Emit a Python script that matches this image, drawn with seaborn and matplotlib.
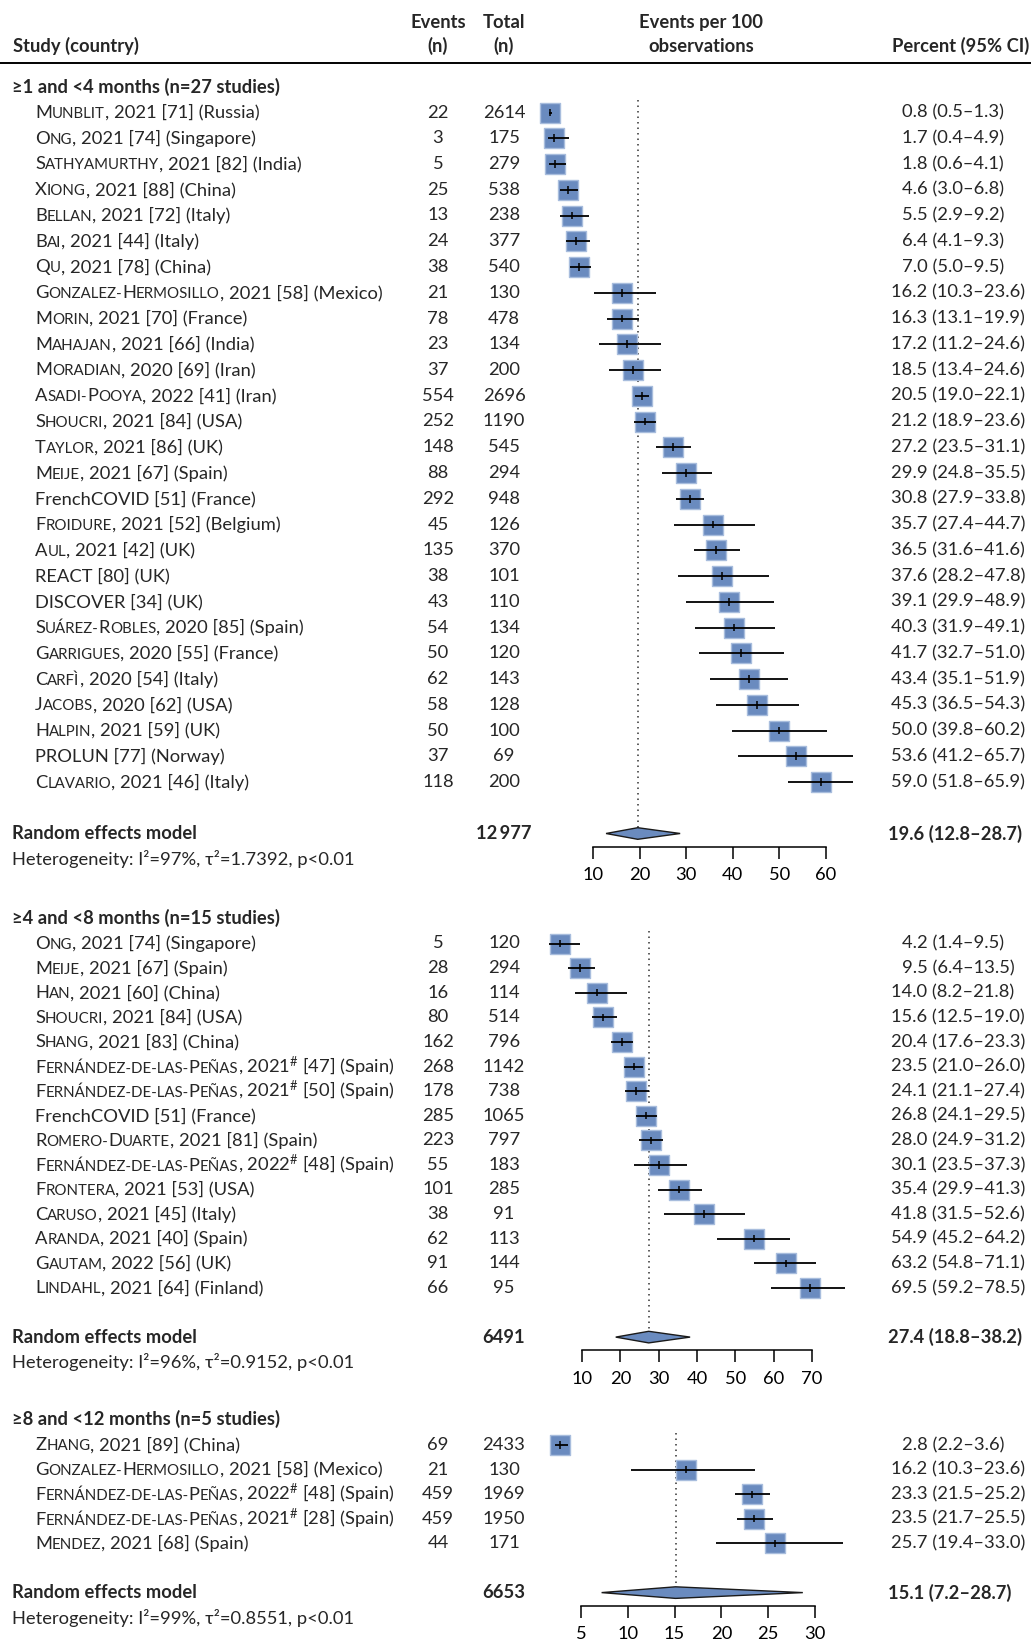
import matplotlib
matplotlib.use("Agg")
import matplotlib.pyplot as plt
import matplotlib.transforms as mtransforms
from matplotlib.lines import Line2D
from matplotlib.offsetbox import TextArea, HPacker, AnnotationBbox
import seaborn as sns
import pandas as pd

# ---- data: >=1 and <4 months
s1_title = "≥1 and <4 months (n=27 studies)"
s1_studies = ["Munblit, 2021 [71] (Russia)", "Ong, 2021 [74] (Singapore)",
              "Sathyamurthy, 2021 [82] (India)", "Xiong, 2021 [88] (China)",
              "Bellan, 2021 [72] (Italy)", "Bai, 2021 [44] (Italy)",
              "Qu, 2021 [78] (China)", "Gonzalez-Hermosillo, 2021 [58] (Mexico)",
              "Morin, 2021 [70] (France)", "Mahajan, 2021 [66] (India)",
              "Moradian, 2020 [69] (Iran)", "Asadi-Pooya, 2022 [41] (Iran)",
              "Shoucri, 2021 [84] (USA)", "Taylor, 2021 [86] (UK)",
              "Meije, 2021 [67] (Spain)", "FrenchCOVID [51] (France)",
              "Froidure, 2021 [52] (Belgium)", "Aul, 2021 [42] (UK)",
              "REACT [80] (UK)", "DISCOVER [34] (UK)",
              "Suárez-Robles, 2020 [85] (Spain)", "Garrigues, 2020 [55] (France)",
              "Carfì, 2020 [54] (Italy)", "Jacobs, 2020 [62] (USA)",
              "Halpin, 2021 [59] (UK)", "PROLUN [77] (Norway)",
              "Clavario, 2021 [46] (Italy)"]
s1_events = [22, 3, 5, 25, 13, 24, 38, 21, 78, 23, 37, 554, 252, 148, 88, 292,
             45, 135, 38, 43, 54, 50, 62, 58, 50, 37, 118]
s1_totals = [2614, 175, 279, 538, 238, 377, 540, 130, 478, 134, 200, 2696, 1190,
             545, 294, 948, 126, 370, 101, 110, 134, 120, 143, 128, 100, 69, 200]
s1_est = [0.8, 1.7, 1.8, 4.6, 5.5, 6.4, 7.0, 16.2, 16.3, 17.2, 18.5, 20.5, 21.2,
          27.2, 29.9, 30.8, 35.7, 36.5, 37.6, 39.1, 40.3, 41.7, 43.4, 45.3, 50.0,
          53.6, 59.0]
s1_lo = [0.5, 0.4, 0.6, 3.0, 2.9, 4.1, 5.0, 10.3, 13.1, 11.2, 13.4, 19.0, 18.9,
         23.5, 24.8, 27.9, 27.4, 31.6, 28.2, 29.9, 31.9, 32.7, 35.1, 36.5, 39.8,
         41.2, 51.8]
s1_hi = [1.3, 4.9, 4.1, 6.8, 9.2, 9.3, 9.5, 23.6, 19.9, 24.6, 24.6, 22.1, 23.6,
         31.1, 35.5, 33.8, 44.7, 41.6, 47.8, 48.9, 49.1, 51.0, 51.9, 54.3, 60.2,
         65.7, 65.9]
s1_pooled = [19.6, 12.8, 28.7]
s1_n = "12\u2009977"
s1_het = "Heterogeneity: I²=97%, τ²=1.7392, p<0.01"
s1_ticks = [10, 20, 30, 40, 50, 60]

# ---- data: >=4 and <8 months
s2_title = "≥4 and <8 months (n=15 studies)"
s2_studies = ["Ong, 2021 [74] (Singapore)", "Meije, 2021 [67] (Spain)",
              "Han, 2021 [60] (China)", "Shoucri, 2021 [84] (USA)",
              "Shang, 2021 [83] (China)",
              "Fernández-de-las-Peñas, 2021# [47] (Spain)",
              "Fernández-de-las-Peñas, 2021# [50] (Spain)",
              "FrenchCOVID [51] (France)", "Romero-Duarte, 2021 [81] (Spain)",
              "Fernández-de-las-Peñas, 2022# [48] (Spain)",
              "Frontera, 2021 [53] (USA)", "Caruso, 2021 [45] (Italy)",
              "Aranda, 2021 [40] (Spain)", "Gautam, 2022 [56] (UK)",
              "Lindahl, 2021 [64] (Finland)"]
s2_events = [5, 28, 16, 80, 162, 268, 178, 285, 223, 55, 101, 38, 62, 91, 66]
s2_totals = [120, 294, 114, 514, 796, 1142, 738, 1065, 797, 183, 285, 91, 113, 144, 95]
s2_est = [4.2, 9.5, 14.0, 15.6, 20.4, 23.5, 24.1, 26.8, 28.0, 30.1, 35.4, 41.8,
          54.9, 63.2, 69.5]
s2_lo = [1.4, 6.4, 8.2, 12.5, 17.6, 21.0, 21.1, 24.1, 24.9, 23.5, 29.9, 31.5,
         45.2, 54.8, 59.2]
s2_hi = [9.5, 13.5, 21.8, 19.0, 23.3, 26.0, 27.4, 29.5, 31.2, 37.3, 41.3, 52.6,
         64.2, 71.1, 78.5]
s2_pooled = [27.4, 18.8, 38.2]
s2_n = "6491"
s2_het = "Heterogeneity: I²=96%, τ²=0.9152, p<0.01"
s2_ticks = [10, 20, 30, 40, 50, 60, 70]

# ---- data: >=8 and <12 months
s3_title = "≥8 and <12 months (n=5 studies)"
s3_studies = ["Zhang, 2021 [89] (China)", "Gonzalez-Hermosillo, 2021 [58] (Mexico)",
              "Fernández-de-las-Peñas, 2022# [48] (Spain)",
              "Fernández-de-las-Peñas, 2021# [28] (Spain)",
              "Mendez, 2021 [68] (Spain)"]
s3_events = [69, 21, 459, 459, 44]
s3_totals = [2433, 130, 1969, 1950, 171]
s3_est = [2.8, 16.2, 23.3, 23.5, 25.7]
s3_lo = [2.2, 10.3, 21.5, 21.7, 19.4]
s3_hi = [3.6, 23.6, 25.2, 25.5, 33.0]
s3_pooled = [15.1, 7.2, 28.7]
s3_n = "6653"
s3_het = "Heterogeneity: I²=99%, τ²=0.8551, p<0.01"
s3_ticks = [5, 10, 15, 20, 25, 30]

# ---- style
W, H = 1031, 1639
FS = 13.2
SC = 0.82
FAM = ["Lato", "DejaVu Sans"]
BLUE = "#6a8bbf"
EDGE = "#a8bddd"

sns.set_style("white")
plt.rcParams["font.family"] = FAM
plt.rcParams["mathtext.default"] = "regular"

fig = plt.figure(figsize=(W / 100, H / 100), dpi=100)
renderer = fig.canvas.get_renderer()


def text_width(s, **kw):
    t = fig.text(0, 0, s, fontsize=FS, **kw)
    w = t.get_window_extent(renderer).width
    t.remove()
    return w


DIG = text_width("0")
DIG_B = text_width("0", fontweight="bold")


def fy(px):
    return 1 - px / H


def name_parts(label):
    # first author surname in small caps
    if ", " not in label:
        return [(label, 1.0)]
    name, rest = label.split(", ", 1)
    parts = []
    for ch in name:
        big = ch.isupper()
        s = ch if big else ch.upper()
        sc = 1.0 if big else SC
        if parts and parts[-1][1] == sc:
            parts[-1] = (parts[-1][0] + s, sc)
        else:
            parts.append((s, sc))
    parts.append((", " + rest.replace("#", r"$^{\#}$"), 1.0))
    return parts


def fmt_ci(est, lo, hi):
    return f"{est:.1f} ({lo:.1f}–{hi:.1f})"


X_NAME, X_EV, X_TOT, X_PCT = 35, 438, 504, 891

# header
fig.text(13 / W, fy(46), "Study (country)", fontsize=FS, fontweight="bold", va="center")
for x, l1, l2 in [(X_EV, "Events", "(n)"), (X_TOT, "Total", "(n)"),
                  (701, "Events per 100", "observations")]:
    fig.text(x / W, fy(22.5), l1, fontsize=FS, fontweight="bold", ha="center", va="center")
    fig.text(x / W, fy(46), l2, fontsize=FS, fontweight="bold", ha="center", va="center")
fig.text(1029 / W, fy(46), "Percent (95% CI)", fontsize=FS, fontweight="bold",
         ha="right", va="center")
fig.add_artist(Line2D([0, 1], [fy(62.5), fy(62.5)], transform=fig.transFigure,
                      color="black", lw=1.4))


def section(title, studies, events, totals, est, lo, hi, pooled, n_tot, het, ticks,
            row0, step, ref, L=530, R=880):
    n = len(studies)
    prow = n + 1
    axis_px = row0 + prow * step + 13
    top_row = -1.6
    top_px = row0 + top_row * step
    ax = fig.add_axes([L / W, fy(axis_px), (R - L) / W, (axis_px - top_px) / H])
    (v1, p1), (v2, p2) = ref
    k = (p2 - p1) / (v2 - v1)
    ax.set_xlim(v1 + (L - p1) / k, v1 + (R - p1) / k)
    ax.set_ylim(prow + 13 / step, top_row)
    ax.set_facecolor("none")
    for s in ["top", "left", "right"]:
        ax.spines[s].set_visible(False)
    ax.spines["bottom"].set_bounds(ticks[0], ticks[-1])
    ax.spines["bottom"].set_linewidth(1.1)
    ax.spines["bottom"].set_color("black")
    ax.set_yticks([])
    ax.set_xticks(ticks)
    ax.tick_params(axis="x", direction="out", length=8.8, width=1.1, pad=6,
                   labelsize=FS, colors="black", bottom=True)

    df = pd.DataFrame({"row": range(n), "est": est, "lo": lo, "hi": hi})
    sns.scatterplot(data=df, x="est", y="row", marker="s", s=210, color=BLUE,
                    edgecolor=EDGE, linewidth=1, ax=ax, legend=False, zorder=2,
                    clip_on=False)
    ax.hlines(df["row"], df["lo"], df["hi"], color="black", lw=1.3, zorder=3)
    ax.vlines(df["est"], df["row"] - 0.15, df["row"] + 0.15, color="black",
              lw=1.1, zorder=3)
    pe, plo, phi = pooled
    hh = 5.8 / step
    ax.fill([plo, pe, phi, pe], [prow, prow - hh, prow, prow + hh],
            facecolor=BLUE, edgecolor="#1a1a1a", lw=1, zorder=3)
    ax.vlines(pe, -0.5, prow - hh, color="#333333", lw=1.1,
              linestyles=(0, (1, 2.6)), zorder=1)
    ax.set_xlabel("")
    ax.set_ylabel("")

    tr = mtransforms.blended_transform_factory(fig.transFigure, ax.transData)
    fig.text(12 / W, fy(row0 - 26), title, fontsize=FS, fontweight="bold", va="center")
    for i in range(n):
        box = HPacker(children=[TextArea(s, textprops=dict(fontsize=FS * sc))
                                for s, sc in name_parts(studies[i])],
                      align="baseline", pad=0, sep=0)
        ab = AnnotationBbox(box, (X_NAME / W, i), xycoords=tr, box_alignment=(0, 0.5),
                            frameon=False, pad=0, annotation_clip=False)
        ax.add_artist(ab)
        ax.text(X_EV / W, i, str(events[i]), transform=tr, fontsize=FS,
                ha="center", va="center")
        ax.text(X_TOT / W, i, str(totals[i]), transform=tr, fontsize=FS,
                ha="center", va="center")
        off = DIG if est[i] < 10 else 0
        ax.text((X_PCT + off) / W, i, fmt_ci(est[i], lo[i], hi[i]), transform=tr,
                fontsize=FS, ha="left", va="center")
    ax.text(12 / W, prow, "Random effects model", transform=tr, fontsize=FS,
            fontweight="bold", va="center")
    ax.text(X_TOT / W, prow, n_tot, transform=tr, fontsize=FS, fontweight="bold",
            ha="center", va="center")
    off = DIG_B if pe < 10 else 0
    ax.text((X_PCT - 3 + off) / W, prow, fmt_ci(pe, plo, phi), transform=tr,
            fontsize=FS, fontweight="bold", ha="left", va="center")
    fig.text(12 / W, fy(row0 + prow * step + 25), het, fontsize=FS, va="center")
    return ax


section(s1_title, s1_studies, s1_events, s1_totals, s1_est, s1_lo, s1_hi,
        s1_pooled, s1_n, s1_het, s1_ticks, row0=112.5, step=25.75,
        ref=((10, 593), (60, 826)))
section(s2_title, s2_studies, s2_events, s2_totals, s2_est, s2_lo, s2_hi,
        s2_pooled, s2_n, s2_het, s2_ticks, row0=943.5, step=24.6,
        ref=((10, 582), (70, 812)))
section(s3_title, s3_studies, s3_events, s3_totals, s3_est, s3_lo, s3_hi,
        s3_pooled, s3_n, s3_het, s3_ticks, row0=1445, step=24.6,
        ref=((5, 581), (30, 815)))

fig.savefig("out.png", dpi=100)
plt.close(fig)
